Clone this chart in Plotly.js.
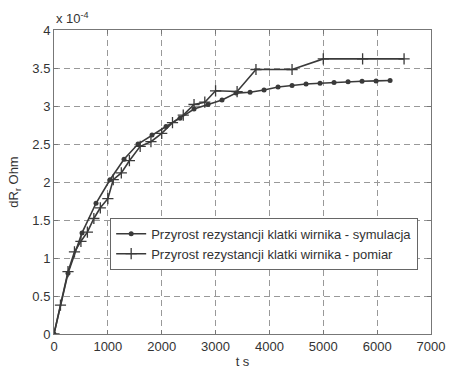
<!DOCTYPE html>
<html>
<head>
<meta charset="utf-8">
<script src="https://cdn.plot.ly/plotly-3.0.1.min.js"></script>
<style>html,body{margin:0;padding:0;background:#fff;}#chart{width:454px;height:372px;}</style>
</head>
<body>
<div id="chart"></div>
<script>
// time [s]
const simTime = [0, 260, 520, 780, 1040, 1300, 1560, 1820, 2080, 2340, 2600, 2860, 3120, 3380, 3640, 3900, 4160, 4420, 4680, 4940, 5200, 5460, 5720, 5980, 6240];
// rotor cage resistance increase, simulation [x 1e-4 Ohm]
const simValues = [0, 0.80, 1.33, 1.72, 2.03, 2.30, 2.50, 2.62, 2.73, 2.84, 2.96, 3.02, 3.08, 3.17, 3.18, 3.21, 3.25, 3.27, 3.29, 3.30, 3.31, 3.32, 3.325, 3.33, 3.335];
const measTime = [0, 120, 260, 380, 500, 620, 740, 860, 1000, 1100, 1250, 1400, 1600, 1800, 2000, 2200, 2400, 2600, 2800, 3000, 3400, 3750, 4420, 5000, 5730, 6500];
// measurement [x 1e-4 Ohm]
const measValues = [0, 0.38, 0.82, 1.08, 1.22, 1.34, 1.52, 1.66, 1.78, 2.03, 2.12, 2.28, 2.47, 2.53, 2.64, 2.78, 2.88, 3.02, 3.05, 3.20, 3.19, 3.48, 3.48, 3.62, 3.62, 3.62];
const legendNames = ["Przyrost rezystancji klatki wirnika - symulacja", "Przyrost rezystancji klatki wirnika - pomiar"];
const xTicks = [0, 1000, 2000, 3000, 4000, 5000, 6000, 7000];
const yTicks = [0, 0.5, 1, 1.5, 2, 2.5, 3, 3.5, 4];
const yTickText = ["0", "0.5", "1", "1.5", "2", "2.5", "3", "3.5", "4"];

const lineColor = "#3a3a3a";
const traces = [
  {x: simTime, y: simValues, name: legendNames[0], mode: "lines+markers",
   line: {color: lineColor, width: 1.6}, marker: {symbol: "circle", size: 5, color: lineColor}},
  {x: measTime, y: measValues, name: legendNames[1], mode: "lines+markers",
   line: {color: lineColor, width: 1.6}, marker: {symbol: "cross-thin-open", size: 8, line: {color: lineColor, width: 1.3}}}
];
const axisCommon = {
  showline: true, linecolor: "#777", linewidth: 1, mirror: "ticks",
  ticks: "inside", ticklen: 4, tickcolor: "#777",
  showgrid: true, gridcolor: "#999", gridwidth: 1, griddash: "6px,4px",
  zeroline: false, tickfont: {family: "Liberation Sans, Arial", size: 13, color: "#333"}
};
const layout = {
  width: 454, height: 372,
  margin: {l: 54, r: 23, t: 30, b: 38},
  paper_bgcolor: "#fff", plot_bgcolor: "#fff",
  showlegend: true,
  legend: {x: 0.149, y: 0.382, xanchor: "left", yanchor: "top", bgcolor: "#fff",
    bordercolor: "#666", borderwidth: 1, font: {family: "Liberation Sans, Arial", size: 13, color: "#333"},
    tracegroupgap: 0, itemwidth: 30},
  xaxis: Object.assign({}, axisCommon, {range: [0, 7000], tickvals: xTicks, ticktext: xTicks.map(String),
    title: {text: "t s", font: {family: "Liberation Sans, Arial", size: 13, color: "#333"}, standoff: 4}}),
  yaxis: Object.assign({}, axisCommon, {range: [0, 4], tickvals: yTicks, ticktext: yTickText,
    title: {text: "dR<sub>r</sub> Ohm", font: {family: "Liberation Sans, Arial", size: 13, color: "#333"}, standoff: 10}}),
  annotations: [{xref: "paper", yref: "paper", x: 0, y: 1, xanchor: "left", yanchor: "bottom", yshift: 2,
    showarrow: false, text: "x 10<sup>-4</sup>", font: {family: "Liberation Sans, Arial", size: 13, color: "#333"}}]
};
Plotly.newPlot("chart", traces, layout, {displayModeBar: false, staticPlot: true});
</script>
</body>
</html>
